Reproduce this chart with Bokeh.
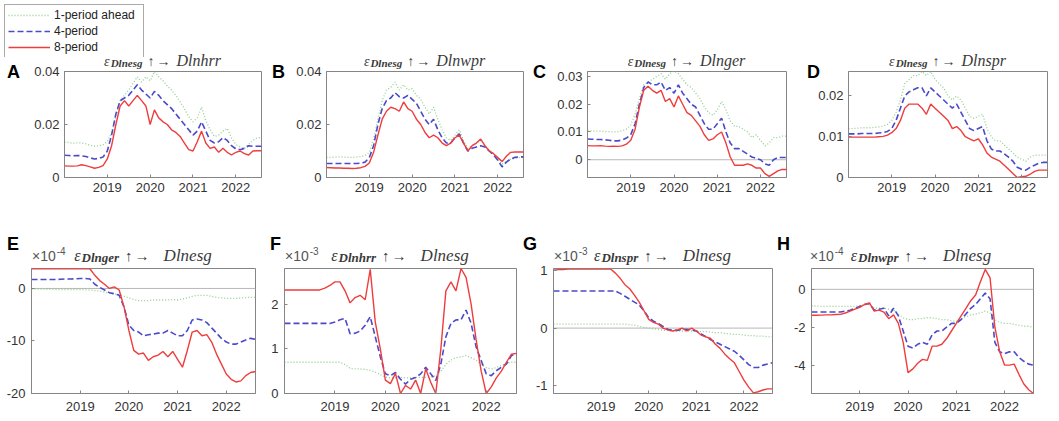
from bokeh.plotting import figure
from bokeh.models import (Range1d, FixedTicker, CustomJSTickFormatter, Legend, LegendItem,
                          Span, GridBox, Div)
from bokeh.layouts import row, column
from bokeh.embed import file_html
from bokeh.resources import INLINE

years = [2018.0, 2018.1, 2018.2, 2018.3, 2018.4, 2018.5, 2018.6, 2018.7, 2018.8, 2018.9,
         2019.0, 2019.1, 2019.2, 2019.3, 2019.4, 2019.5, 2019.6, 2019.7, 2019.8, 2019.9,
         2020.0, 2020.1, 2020.2, 2020.3, 2020.4, 2020.5, 2020.6, 2020.7, 2020.8, 2020.9,
         2021.0, 2021.1, 2021.2, 2021.3, 2021.4, 2021.5, 2021.6, 2021.7, 2021.8, 2021.9,
         2022.0, 2022.1, 2022.2, 2022.3, 2022.4, 2022.5, 2022.6]
year_ticks = [2019, 2020, 2021, 2022]
series_names = ["1-period ahead", "4-period", "8-period"]

A_1 = [0.0134, 0.0132, 0.0129, 0.0131, 0.0130, 0.0127, 0.0122, 0.0118, 0.0120, 0.0124,
       0.0135, 0.0170, 0.0230, 0.0290, 0.0310, 0.0330, 0.0355, 0.0380, 0.0360, 0.0380,
       0.0365, 0.0400, 0.0380, 0.0365, 0.0345, 0.0330, 0.0310, 0.0285, 0.0260, 0.0230,
       0.0210, 0.0225, 0.0265, 0.0215, 0.0180, 0.0155, 0.0160, 0.0175, 0.0185, 0.0150,
       0.0125, 0.0115, 0.0110, 0.0125, 0.0140, 0.0150, 0.0150]
A_4 = [0.0084, 0.0083, 0.0082, 0.0083, 0.0082, 0.0079, 0.0074, 0.0070, 0.0072, 0.0077,
       0.0100, 0.0160, 0.0240, 0.0290, 0.0300, 0.0310, 0.0330, 0.0350, 0.0330, 0.0315,
       0.0300, 0.0325, 0.0310, 0.0290, 0.0275, 0.0260, 0.0240, 0.0220, 0.0200, 0.0180,
       0.0160, 0.0175, 0.0210, 0.0175, 0.0140, 0.0130, 0.0135, 0.0150, 0.0140, 0.0120,
       0.0108, 0.0105, 0.0110, 0.0120, 0.0118, 0.0118, 0.0118]
A_8 = [0.0044, 0.0043, 0.0043, 0.0044, 0.0048, 0.0045, 0.0040, 0.0035, 0.0038, 0.0045,
       0.0070, 0.0120, 0.0200, 0.0270, 0.0290, 0.0270, 0.0290, 0.0310, 0.0290, 0.0270,
       0.0200, 0.0255, 0.0225, 0.0210, 0.0200, 0.0180, 0.0170, 0.0155, 0.0130, 0.0105,
       0.0100, 0.0135, 0.0175, 0.0130, 0.0110, 0.0115, 0.0095, 0.0110, 0.0095, 0.0085,
       0.0095, 0.0100, 0.0090, 0.0085, 0.0100, 0.0101, 0.0101]

B_1 = [0.0076, 0.0076, 0.0077, 0.0078, 0.0077, 0.0076, 0.0076, 0.0077, 0.0079, 0.0083,
       0.0095, 0.0145, 0.0220, 0.0290, 0.0330, 0.0340, 0.0360, 0.0330, 0.0350, 0.0330,
       0.0335, 0.0310, 0.0295, 0.0265, 0.0240, 0.0265, 0.0220, 0.0180, 0.0150, 0.0140,
       0.0160, 0.0180, 0.0140, 0.0110, 0.0120, 0.0130, 0.0140, 0.0120, 0.0105, 0.0090,
       0.0070, 0.0050, 0.0060, 0.0068, 0.0072, 0.0075, 0.0075]
B_4 = [0.0053, 0.0053, 0.0053, 0.0053, 0.0053, 0.0053, 0.0053, 0.0053, 0.0054, 0.0058,
       0.0075, 0.0120, 0.0200, 0.0260, 0.0290, 0.0300, 0.0320, 0.0305, 0.0300, 0.0310,
       0.0295, 0.0280, 0.0250, 0.0220, 0.0200, 0.0220, 0.0180, 0.0150, 0.0130, 0.0130,
       0.0150, 0.0165, 0.0130, 0.0100, 0.0110, 0.0115, 0.0120, 0.0115, 0.0100, 0.0085,
       0.0065, 0.0040, 0.0058, 0.0070, 0.0076, 0.0078, 0.0078]
B_8 = [0.0038, 0.0037, 0.0036, 0.0036, 0.0035, 0.0035, 0.0034, 0.0035, 0.0037, 0.0042,
       0.0055, 0.0095, 0.0160, 0.0220, 0.0250, 0.0265, 0.0260, 0.0250, 0.0285, 0.0260,
       0.0250, 0.0220, 0.0200, 0.0170, 0.0150, 0.0160, 0.0150, 0.0130, 0.0120, 0.0130,
       0.0150, 0.0160, 0.0130, 0.0100, 0.0120, 0.0130, 0.0145, 0.0120, 0.0100, 0.0090,
       0.0075, 0.0060, 0.0080, 0.0095, 0.0096, 0.0096, 0.0096]

C_1 = [0.0105, 0.0104, 0.0103, 0.0103, 0.0102, 0.0101, 0.0100, 0.0101, 0.0104, 0.0110,
       0.0125, 0.0165, 0.0220, 0.0270, 0.0280, 0.0290, 0.0300, 0.0310, 0.0290, 0.0310,
       0.0320, 0.0310, 0.0290, 0.0270, 0.0260, 0.0240, 0.0220, 0.0190, 0.0170, 0.0160,
       0.0180, 0.0210, 0.0180, 0.0140, 0.0120, 0.0120, 0.0110, 0.0100, 0.0080, 0.0090,
       0.0070, 0.0050, 0.0060, 0.0080, 0.0080, 0.0085, 0.0085]
C_4 = [0.0075, 0.0074, 0.0073, 0.0073, 0.0072, 0.0070, 0.0068, 0.0068, 0.0071, 0.0078,
       0.0090, 0.0130, 0.0200, 0.0260, 0.0280, 0.0270, 0.0270, 0.0280, 0.0250, 0.0260,
       0.0240, 0.0270, 0.0240, 0.0220, 0.0200, 0.0190, 0.0160, 0.0130, 0.0110, 0.0110,
       0.0130, 0.0150, 0.0100, 0.0060, 0.0040, 0.0040, 0.0030, 0.0020, 0.0010, 0.0005,
       0.0000, -0.0015, -0.0020, 0.0000, 0.0008, 0.0008, 0.0008]
C_8 = [0.0051, 0.0050, 0.0050, 0.0051, 0.0049, 0.0048, 0.0049, 0.0048, 0.0050, 0.0056,
       0.0070, 0.0110, 0.0190, 0.0250, 0.0265, 0.0250, 0.0240, 0.0250, 0.0210, 0.0220,
       0.0190, 0.0230, 0.0200, 0.0170, 0.0160, 0.0140, 0.0120, 0.0090, 0.0070, 0.0075,
       0.0090, 0.0100, 0.0060, 0.0010, -0.0020, -0.0020, -0.0020, -0.0015, -0.0020, -0.0030,
       -0.0030, -0.0050, -0.0060, -0.0050, -0.0040, -0.0035, -0.0035]

D_1 = [0.0120, 0.0120, 0.0121, 0.0122, 0.0122, 0.0122, 0.0123, 0.0124, 0.0126, 0.0130,
       0.0140, 0.0160, 0.0190, 0.0230, 0.0240, 0.0250, 0.0250, 0.0260, 0.0250, 0.0260,
       0.0240, 0.0230, 0.0220, 0.0200, 0.0190, 0.0200, 0.0190, 0.0170, 0.0150, 0.0145,
       0.0150, 0.0155, 0.0120, 0.0100, 0.0090, 0.0090, 0.0080, 0.0070, 0.0060, 0.0050,
       0.0045, 0.0040, 0.0050, 0.0055, 0.0055, 0.0055, 0.0055]
D_4 = [0.0107, 0.0107, 0.0107, 0.0108, 0.0108, 0.0108, 0.0108, 0.0109, 0.0110, 0.0113,
       0.0120, 0.0140, 0.0170, 0.0200, 0.0210, 0.0215, 0.0220, 0.0220, 0.0200, 0.0220,
       0.0210, 0.0200, 0.0190, 0.0180, 0.0170, 0.0180, 0.0160, 0.0140, 0.0120, 0.0115,
       0.0120, 0.0125, 0.0090, 0.0070, 0.0065, 0.0065, 0.0058, 0.0050, 0.0040, 0.0025,
       0.0020, 0.0018, 0.0025, 0.0030, 0.0035, 0.0037, 0.0037]
D_8 = [0.0099, 0.0099, 0.0099, 0.0099, 0.0099, 0.0099, 0.0099, 0.0100, 0.0101, 0.0104,
       0.0110, 0.0120, 0.0140, 0.0170, 0.0180, 0.0180, 0.0180, 0.0170, 0.0155, 0.0180,
       0.0170, 0.0160, 0.0150, 0.0140, 0.0120, 0.0125, 0.0115, 0.0100, 0.0095, 0.0090,
       0.0095, 0.0080, 0.0060, 0.0050, 0.0045, 0.0040, 0.0030, 0.0020, 0.0010, 0.0000,
       0.0002, 0.0003, 0.0008, 0.0015, 0.0018, 0.0018, 0.0018]

E_1 = [-0.1, -0.1, -0.1, -0.15, -0.15, -0.2, -0.2, -0.2, -0.2, -0.2,
       -0.2, -0.25, -0.3, -0.4, -0.5, -0.7, -0.9, -1.0, -1.2, -1.5,
       -1.8, -2.1, -2.3, -2.3, -2.3, -2.2, -2.2, -2.2, -2.2, -2.1,
       -2.2, -2.0, -1.8, -1.5, -1.3, -1.3, -1.3, -1.5, -1.7, -1.8,
       -1.9, -1.9, -1.9, -1.8, -1.75, -1.7, -1.7]
E_4 = [1.7, 1.7, 1.7, 1.7, 1.7, 1.7, 1.75, 1.8, 1.8, 1.85,
       1.9, 1.9, 1.8, 0.8, 0.2, -0.3, -0.8, -1.0, -1.3, -3.5,
       -7.0, -8.0, -8.3, -9.0, -8.8, -8.7, -8.5, -8.5, -8.0, -8.5,
       -9.0, -9.0, -8.0, -6.0, -5.8, -6.0, -6.5, -7.5, -8.5, -9.5,
       -10.2, -10.6, -10.6, -10.2, -9.8, -9.5, -9.7]
E_8 = [3.75, 3.75, 3.75, 3.75, 3.75, 3.75, 3.75, 3.75, 3.75, 3.75,
       3.75, 3.75, 3.75, 2.5, 1.5, 0.8, 0.0, 0.3, -0.3, -3.5,
       -8.0, -11.8, -12.5, -12.3, -13.7, -13.0, -12.7, -12.0, -13.0, -12.0,
       -13.5, -15.0, -11.8, -8.3, -8.0, -9.0, -8.8, -10.2, -12.5, -14.4,
       -16.3, -17.3, -17.8, -17.6, -16.6, -16.0, -15.8]

F_1 = [0.70, 0.70, 0.70, 0.70, 0.70, 0.70, 0.70, 0.70, 0.70, 0.70,
       0.70, 0.70, 0.65, 0.56, 0.55, 0.55, 0.54, 0.52, 0.48, 0.42,
       0.37, 0.35, 0.35, 0.36, 0.35, 0.35, 0.36, 0.36, 0.36, 0.37,
       0.40, 0.50, 0.65, 0.75, 0.80, 0.82, 0.85, 0.80, 0.75, 0.65,
       0.58, 0.55, 0.58, 0.63, 0.68, 0.70, 0.70]
F_4 = [1.57, 1.57, 1.57, 1.57, 1.57, 1.57, 1.57, 1.57, 1.57, 1.57,
       1.60, 1.65, 1.68, 1.34, 1.35, 1.40, 1.53, 1.72, 1.27, 0.82,
       0.44, 0.40, 0.47, 0.32, 0.21, 0.32, 0.36, 0.44, 0.59, 0.44,
       0.29, 0.66, 1.27, 1.57, 1.65, 1.65, 1.87, 1.57, 1.04, 0.74,
       0.44, 0.40, 0.51, 0.59, 0.66, 0.85, 0.89]
F_8 = [2.32, 2.32, 2.32, 2.32, 2.32, 2.32, 2.32, 2.32, 2.36, 2.42,
       2.50, 2.50, 2.30, 2.03, 2.15, 2.20, 2.10, 2.78, 1.60, 1.00,
       0.30, 0.22, 0.45, 0.00, 0.18, 0.10, 0.30, 0.00, 0.55, 0.25,
       0.00, 1.00, 2.30, 2.50, 2.30, 2.80, 2.60, 2.00, 1.20, 0.50,
       0.00, 0.15, 0.35, 0.50, 0.70, 0.88, 0.90]

G_1 = [0.07, 0.07, 0.07, 0.07, 0.07, 0.07, 0.07, 0.07, 0.07, 0.07,
       0.07, 0.07, 0.07, 0.07, 0.07, 0.07, 0.06, 0.05, 0.03, 0.01,
       0.00, -0.01, -0.02, -0.04, -0.04, -0.05, -0.05, -0.05, -0.05, -0.05,
       -0.05, -0.06, -0.06, -0.07, -0.08, -0.08, -0.09, -0.10, -0.11, -0.11,
       -0.12, -0.13, -0.13, -0.14, -0.14, -0.15, -0.15]
G_4 = [0.64, 0.64, 0.64, 0.64, 0.64, 0.64, 0.64, 0.64, 0.64, 0.64,
       0.64, 0.64, 0.64, 0.64, 0.60, 0.55, 0.50, 0.45, 0.40, 0.30,
       0.18, 0.12, 0.08, 0.03, -0.02, -0.04, -0.04, -0.02, -0.02, -0.03,
       -0.05, -0.10, -0.15, -0.20, -0.24, -0.28, -0.32, -0.36, -0.40, -0.47,
       -0.55, -0.63, -0.68, -0.68, -0.64, -0.62, -0.60]
G_8 = [1.00, 1.01, 1.01, 1.02, 1.02, 1.02, 1.02, 1.02, 1.02, 1.02,
       1.02, 1.02, 1.02, 0.95, 0.86, 0.75, 0.68, 0.57, 0.45, 0.30,
       0.15, 0.10, 0.07, 0.00, -0.03, -0.05, -0.03, 0.00, -0.05, 0.00,
       -0.05, -0.12, -0.15, -0.18, -0.28, -0.35, -0.45, -0.53, -0.60, -0.75,
       -0.90, -1.02, -1.12, -1.10, -1.07, -1.05, -1.05]

H_1 = [-0.88, -0.88, -0.90, -0.90, -0.90, -0.90, -0.90, -0.90, -0.90, -0.90,
       -0.85, -0.80, -0.80, -1.00, -1.00, -1.00, -1.05, -1.10, -1.30, -1.50,
       -1.60, -1.60, -1.55, -1.55, -1.50, -1.50, -1.55, -1.60, -1.60, -1.65,
       -1.70, -1.55, -1.45, -1.35, -1.30, -1.25, -1.15, -1.25, -1.60, -1.75,
       -1.80, -1.80, -1.85, -1.90, -1.95, -1.95, -2.00]
H_4 = [-1.20, -1.20, -1.20, -1.20, -1.20, -1.20, -1.20, -1.15, -1.10, -1.00,
       -0.90, -0.80, -0.75, -1.10, -1.05, -1.00, -1.40, -1.00, -1.40, -2.20,
       -3.00, -3.10, -2.90, -2.80, -2.90, -2.40, -2.20, -2.20, -2.00, -1.80,
       -1.80, -1.60, -1.30, -1.00, -0.80, -0.50, -0.20, -0.50, -2.80, -3.30,
       -3.40, -3.30, -3.30, -3.60, -3.80, -3.95, -4.00]
H_8 = [-1.37, -1.37, -1.36, -1.35, -1.35, -1.33, -1.32, -1.25, -1.15, -1.05,
       -0.95, -0.80, -0.72, -1.15, -1.10, -1.20, -1.55, -1.35, -1.80, -2.80,
       -4.40, -4.20, -3.90, -3.70, -3.75, -3.00, -3.00, -2.90, -2.60, -2.20,
       -1.80, -1.40, -1.00, -0.60, -0.30, 0.40, 1.05, 0.60, -2.00, -3.30,
       -4.00, -4.00, -3.95, -4.50, -5.00, -5.30, -5.50]

# letter, data, y-range, y-ticks, shock, response, exponent, zero line
panels_top = [
    ("A", (A_1, A_4, A_8), (0.0, 0.04), [0, 0.02, 0.04], "Dlnesg", "Dlnhrr", None, False),
    ("B", (B_1, B_4, B_8), (0.0, 0.04), [0, 0.02, 0.04], "Dlnesg", "Dlnwpr", None, False),
    ("C", (C_1, C_4, C_8), (-0.0064, 0.0318), [0, 0.01, 0.02, 0.03], "Dlnesg", "Dlnger", None, True),
    ("D", (D_1, D_4, D_8), (0.0, 0.026), [0, 0.01, 0.02], "Dlnesg", "Dlnspr", None, False),
]
panels_bot = [
    ("E", (E_1, E_4, E_8), (-20.0, 3.8), [-20, -10, 0], "Dlnger", "Dlnesg", "-4", True),
    ("F", (F_1, F_4, F_8), (0.0, 2.8), [0, 1, 2], "Dlnhrr", "Dlnesg", "-3", False),
    ("G", (G_1, G_4, G_8), (-1.13, 1.03), [-1, 0, 1], "Dlnspr", "Dlnesg", "-3", True),
    ("H", (H_1, H_4, H_8), (-5.5, 1.1), [-4, -2, 0], "Dlnwpr", "Dlnesg", "-4", True),
]

# geometry: (x0, outer width, left border, right border, letter x)
geo_top = [(0, 270, 64, 9, 7), (270, 261, 56, 8, 272), (531, 266, 56, 11, 533), (797, 259, 51, 9, 807)]
geo_bot = [(0, 266, 31, 11, 7), (266, 259, 18, 9, 270), (525, 265, 28, 18, 523), (790, 266, 19, 23, 777)]
LEG_H = 57
TOP_H, TOP_T, TOP_B = 143, 14, 23
BOT_H, BOT_T, BOT_B = 219, 68, 26
PAGE_W, PAGE_H = 1056, LEG_H + TOP_H + BOT_H

GREEN = "#8fcf8f"
BLUE = "#4a4acb"
RED = "#ef3d3d"
AXC = "#858585"
TXT = "#333333"
SANS = "Liberation Sans"
SERIF = "Liberation Serif"

fmt = CustomJSTickFormatter(code="return String(Math.round(tick*10000)/10000);")


def add_lines(p, data):
    r1 = p.line(years, data[0], line_color=GREEN, line_width=1.3, line_dash="1 2")
    r4 = p.line(years, data[1], line_color=BLUE, line_width=1.6, line_dash="6 3")
    r8 = p.line(years, data[2], line_color=RED, line_width=1.4)
    return r1, r4, r8


def make(cfg, geo, height, top, bottom, is_top):
    letter, data, yr, yt, shock, resp, expo, zero = cfg
    x0, w, left, right = geo[:4]
    p = figure(width=w, height=height, x_range=Range1d(2018.0, 2022.6),
               y_range=Range1d(yr[0], yr[1]), output_backend="svg",
               toolbar_location=None, tools="",
               min_border_left=left, min_border_right=right,
               min_border_top=top, min_border_bottom=bottom)
    p.grid.visible = False
    p.outline_line_color = AXC
    p.outline_line_width = 1
    for ax in (p.xaxis[0], p.yaxis[0]):
        ax.axis_line_color = AXC
        ax.major_tick_line_color = AXC
        ax.major_tick_in = 3
        ax.major_tick_out = 0
        ax.minor_tick_line_color = None
        ax.major_label_text_font = SANS
        ax.major_label_text_font_size = "13px"
        ax.major_label_text_color = TXT
        ax.formatter = fmt
    p.xaxis.ticker = FixedTicker(ticks=year_ticks)
    p.yaxis.ticker = FixedTicker(ticks=yt)
    p.yaxis.major_label_standoff = 5 if is_top else 6
    p.xaxis.major_label_standoff = 5 if is_top else 8
    if zero:
        p.add_layout(Span(location=0, dimension="width", line_color="#b8b8b8",
                          line_width=1, level="underlay"))
    add_lines(p, data)
    return p


# legend strip: its own small figure whose frame is the whole canvas; the
# lines it holds lie outside its x-range, only their legend samples show
leg = figure(width=160, height=LEG_H, output_backend="svg", toolbar_location=None, tools="",
             x_axis_type=None, y_axis_type=None, x_range=Range1d(0, 1), y_range=Range1d(0, 1),
             min_border_left=0, min_border_right=0, min_border_top=0, min_border_bottom=0)
leg.grid.visible = False
leg.outline_line_color = None
lr = add_lines(leg, (A_1, A_4, A_8))
leg.add_layout(Legend(items=[LegendItem(label=series_names[k], renderers=[lr[k]]) for k in range(3)],
                      location="top_left", orientation="vertical",
                      glyph_width=42, glyph_height=14, label_height=14, label_width=86,
                      label_standoff=4, spacing=2, padding=3, margin=4,
                      border_line_color="#555555", border_line_width=1,
                      background_fill_color="white", background_fill_alpha=1.0,
                      label_text_font=SANS, label_text_font_size="12px",
                      label_text_color="#222222"), "center")

html = []


def letter_html(x, base, t):
    html.append('<div style="position:absolute;left:%.1fpx;top:%.1fpx;font-family:\'%s\';'
                'font-weight:bold;font-size:18px;line-height:1;color:#000;white-space:nowrap">%s</div>'
                % (x, base - 0.8465 * 18, SANS, t))


def title_html(cx, base, shock, resp, big):
    if big:
        s_eps, s_sub, s_arr, s_main, g1, g2, g3, g4 = 16, 13, 15, 17, 1, 6, 2, 14
    else:
        s_eps, s_sub, s_arr, s_main, g1, g2, g3, g4 = 14, 11, 14, 16, 1, 5, 2, 6
    html.append(
        '<div style="position:absolute;left:%.1fpx;top:%.1fpx;transform:translateX(-50%%);'
        'white-space:nowrap;font-family:\'%s\';font-size:%dpx;line-height:1;color:#3a3a3a">'
        '<span style="font-style:italic;font-size:%dpx">ε</span>'
        '<span style="font-style:italic;font-weight:bold;font-size:%dpx;position:relative;top:1px;margin-left:%dpx">%s</span>'
        '<span style="font-size:%dpx;margin-left:%dpx">↑</span>'
        '<span style="font-size:%dpx;margin-left:%dpx">→</span>'
        '<span style="font-style:italic;margin-left:%dpx">%s</span></div>'
        % (cx, base - 0.8375 * s_main, SERIF, s_main, s_eps, s_sub, g1, shock,
           s_arr, g2, s_arr, g3, g4, resp))


def expo_html(x, base, e):
    html.append('<div style="position:absolute;left:%.1fpx;top:%.1fpx;font-family:\'%s\';'
                'font-size:14px;line-height:1;color:#555;white-space:nowrap">×10'
                '<span style="font-size:10px;position:relative;top:-6px;margin-left:1px">%s</span></div>'
                % (x, base - 0.8465 * 14, SANS, e))


tops = []
for cfg, geo in zip(panels_top, geo_top):
    tops.append(make(cfg, geo, TOP_H, TOP_T, TOP_B, True))
    x0, w, left, right, lx = geo
    cx = x0 + left + (w - left - right) / 2.0
    letter_html(lx, 78, cfg[0])
    title_html(cx, 66.5, cfg[4], cfg[5], False)

bots = []
for cfg, geo in zip(panels_bot, geo_bot):
    bots.append(make(cfg, geo, BOT_H, BOT_T, BOT_B, False))
    x0, w, left, right, lx = geo
    fl = x0 + left
    cx = fl + (w - left - right) / 2.0
    letter_html(lx, 250, cfg[0])
    expo_html(fl + 1, 261, cfg[6])
    title_html(cx, 261, cfg[4], cfg[5], True)

plots = column(leg, row(*tops), row(*bots))
overlay = Div(text='<div style="position:relative;width:%dpx;height:%dpx;z-index:10;pointer-events:none">%s</div>'
              % (PAGE_W, PAGE_H, "".join(html)), width=PAGE_W, height=PAGE_H, margin=0)
grid = GridBox(children=[(plots, 0, 0), (overlay, 0, 0)],
               cols=["%dpx" % PAGE_W], rows=["%dpx" % PAGE_H], spacing=0)
open("out.html", "w").write(file_html(grid, INLINE))
